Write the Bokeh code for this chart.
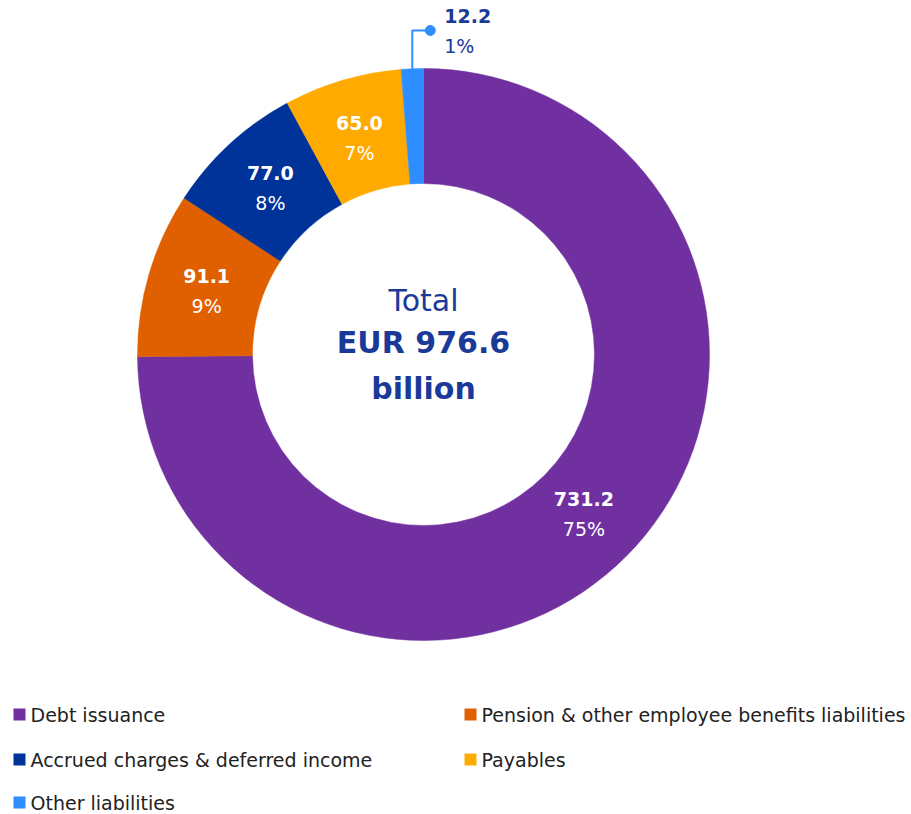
import math
from bokeh.plotting import figure
from bokeh.models import Range1d
from bokeh.embed import file_html
from bokeh.resources import INLINE
from bokeh.core.properties import value

# ---- data ----
categories = ["Debt issuance",
              "Pension & other employee benefits liabilities",
              "Accrued charges & deferred income",
              "Payables",
              "Other liabilities"]
values = [731.2, 91.1, 77.0, 65.0, 12.2]
colors = ["#7030A0", "#E06000", "#003399", "#FFAA00", "#2E8EFF"]
center_lines = ["Total", "EUR 976.6", "billion"]

# ---- layout ----
W, H = 905, 812
FONT = value("DejaVu Sans")
NAVY = "#1A3A9A"

def sy(y):  # screen y -> data y
    return 814 - y

p = figure(width=W, height=H, x_range=Range1d(0, W), y_range=Range1d(814 - H, 814),
           x_axis_type=None, y_axis_type=None, output_backend="svg",
           toolbar_location=None, min_border=0)
p.outline_line_color = None
p.background_fill_color = "white"
p.border_fill_color = "white"

cx, cy = 423, sy(354)
r_in, r_out = 171, 286
total = sum(values)

starts, ends, mids = [], [], []
cum = 0.0
for v in values:
    a0 = math.pi / 2 - 2 * math.pi * cum / total
    cum += v
    a1 = math.pi / 2 - 2 * math.pi * cum / total
    starts.append(a1)
    ends.append(a0)
    mids.append((a0 + a1) / 2)

p.annular_wedge(x=[cx] * len(values), y=[cy] * len(values),
                inner_radius=r_in, outer_radius=r_out,
                start_angle=starts, end_angle=ends, direction="anticlock",
                fill_color=colors, line_color=colors, line_width=0.5)

pcts = [f"{round(100 * v / total):.0f}%" for v in values]
nums = [f"{v:.1f}" for v in values]

# inner labels (all but last)
r_lab = 226
lx = [cx + r_lab * math.cos(m) for m in mids[:-1]]
ly = [cy + r_lab * math.sin(m) for m in mids[:-1]]
p.text(x=lx, y=[y + 15 for y in ly], text=nums[:-1], text_font=FONT,
       text_font_size="19px", text_font_style="bold", text_color="white",
       text_align="center", text_baseline="middle")
p.text(x=lx, y=[y - 15 for y in ly], text=pcts[:-1], text_font=FONT,
       text_font_size="19px", text_color="white",
       text_align="center", text_baseline="middle")

# outside label for the small slice with leader line
m = mids[-1]
x0 = cx + r_out * math.cos(m)
y0 = cy + r_out * math.sin(m)
ytop = sy(30)
xdot = x0 + 18
p.line(x=[x0, x0, xdot], y=[y0, ytop, ytop], line_color=colors[-1], line_width=2)
p.scatter(x=[xdot], y=[ytop], size=10, marker="circle",
          fill_color=colors[-1], line_color=colors[-1])
p.text(x=[xdot + 14], y=[ytop + 15], text=[nums[-1]], text_font=FONT,
       text_font_size="19px", text_font_style="bold", text_color=NAVY,
       text_align="left", text_baseline="middle")
p.text(x=[xdot + 14], y=[ytop - 15], text=[pcts[-1]], text_font=FONT,
       text_font_size="19px", text_color=NAVY,
       text_align="left", text_baseline="middle")

# center text
p.text(x=[cx], y=[sy(300)], text=[center_lines[0]], text_font=FONT,
       text_font_size="30px", text_color=NAVY,
       text_align="center", text_baseline="middle")
p.text(x=[cx, cx], y=[sy(342), sy(388)], text=center_lines[1:], text_font=FONT,
       text_font_size="30px", text_font_style="bold", text_color=NAVY,
       text_align="center", text_baseline="middle")

# legend
col_x = [19, 470]
row_y = [714, 759, 802]
leg_x, leg_y = [], []
for i in range(len(categories)):
    leg_x.append(col_x[i % 2])
    leg_y.append(sy(row_y[i // 2]))
p.rect(x=leg_x, y=leg_y, width=12, height=12, fill_color=colors, line_color=None)
p.text(x=[x + 11 for x in leg_x], y=leg_y, text=categories, text_font=FONT,
       text_font_size="19px", text_color="#222222",
       text_align="left", text_baseline="middle")

open("out.html", "w").write(file_html(p, INLINE))
